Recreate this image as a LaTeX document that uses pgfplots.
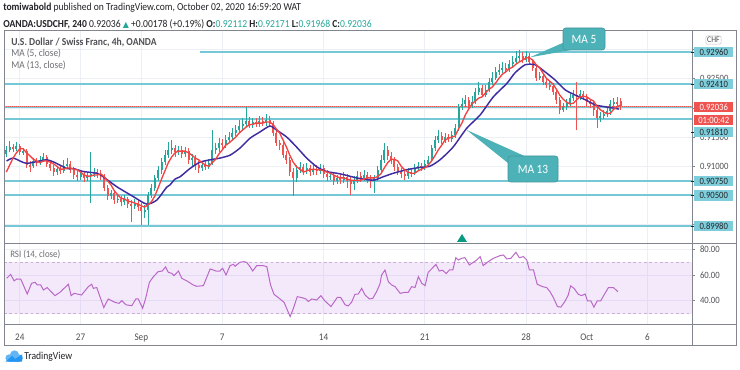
\documentclass[border=0pt]{standalone}
\usepackage{fontspec}
\setmainfont{Carlito}[FakeStretch=0.9]
\newfontfamily\symf{DejaVu Sans}
\usepackage{pgfplots}
\pgfplotsset{compat=1.18}
\usepackage{pgfplotstable}

\definecolor{upc}{RGB}{38,166,154}
\definecolor{dnc}{RGB}{239,83,80}
\definecolor{mafive}{RGB}{242,66,66}
\definecolor{mathirteen}{RGB}{63,44,160}
\definecolor{lvl}{RGB}{118,200,214}
\definecolor{lvlbox}{RGB}{126,205,218}
\definecolor{callout}{RGB}{77,178,184}
\definecolor{rsic}{RGB}{186,104,200}
\definecolor{rsiband}{RGB}{170,80,230}
\definecolor{rsidash}{RGB}{200,175,215}
\definecolor{gridc}{RGB}{236,240,245}
\definecolor{framec}{RGB}{130,133,142}
\definecolor{hdr}{RGB}{35,35,40}
\definecolor{labc}{RGB}{80,80,85}
\definecolor{legc}{RGB}{110,110,115}
\definecolor{trig}{RGB}{8,153,129}
\definecolor{tvblue}{RGB}{33,150,243}
\definecolor{tvlight}{RGB}{100,181,246}

\pgfplotstableread{
k o h l c
-4 0.9121 0.9135 0.9116 0.9128
-3 0.9128 0.9143 0.9124 0.9133
-1 0.9130 0.9142 0.9126 0.9135
1 0.9124 0.9131 0.9119 0.9126
4 0.9100 0.9114 0.9097 0.9109
6 0.9106 0.9118 0.9102 0.9111
7 0.9111 0.9123 0.9107 0.9116
11 0.9090 0.9100 0.9085 0.9095
13 0.9092 0.9111 0.9088 0.9100
14 0.9100 0.9114 0.9095 0.9104
18 0.9082 0.9094 0.9076 0.9087
20 0.9080 0.9090 0.9075 0.9083
21 0.9083 0.9124 0.9037 0.9087
22 0.9087 0.9097 0.9082 0.9090
27 0.9049 0.9059 0.9044 0.9054
29 0.9042 0.9051 0.9037 0.9044
31 0.9039 0.9051 0.9034 0.9044
34 0.9032 0.9044 0.9027 0.9037
37 0.9023 0.9034 0.9011 0.9025
38 0.9025 0.9056 0.8999 0.9051
39 0.9051 0.9070 0.9045 0.9063
40 0.9063 0.9085 0.9058 0.9080
41 0.9080 0.9100 0.9075 0.9094
42 0.9094 0.9114 0.9087 0.9107
43 0.9107 0.9128 0.9102 0.9119
44 0.9119 0.9142 0.9114 0.9128
45 0.9128 0.9145 0.9121 0.9131
47 0.9124 0.9135 0.9119 0.9128
49 0.9121 0.9133 0.9116 0.9126
51 0.9111 0.9121 0.9100 0.9114
54 0.9097 0.9107 0.9092 0.9102
56 0.9099 0.9112 0.9095 0.9106
57 0.9106 0.9162 0.9102 0.9128
58 0.9128 0.9140 0.9121 0.9131
59 0.9131 0.9148 0.9124 0.9140
61 0.9136 0.9154 0.9131 0.9145
62 0.9145 0.9159 0.9140 0.9150
63 0.9150 0.9166 0.9145 0.9157
64 0.9157 0.9171 0.9152 0.9162
65 0.9162 0.9179 0.9157 0.9169
66 0.9169 0.9183 0.9162 0.9172
67 0.9172 0.9202 0.9167 0.9178
69 0.9171 0.9183 0.9166 0.9176
71 0.9172 0.9186 0.9167 0.9178
73 0.9174 0.9190 0.9169 0.9179
82 0.9080 0.9102 0.9073 0.9094
83 0.9094 0.9107 0.9088 0.9099
85 0.9092 0.9106 0.9087 0.9097
87 0.9090 0.9104 0.9085 0.9095
89 0.9092 0.9104 0.9087 0.9097
92 0.9082 0.9090 0.9076 0.9083
94 0.9075 0.9085 0.9070 0.9080
96 0.9076 0.9090 0.9071 0.9082
99 0.9070 0.9083 0.9059 0.9076
100 0.9076 0.9092 0.9071 0.9083
102 0.9080 0.9094 0.9075 0.9085
105 0.9075 0.9085 0.9054 0.9080
106 0.9080 0.9100 0.9075 0.9094
107 0.9094 0.9119 0.9088 0.9111
108 0.9111 0.9140 0.9106 0.9128
115 0.9083 0.9097 0.9078 0.9090
117 0.9088 0.9104 0.9085 0.9097
118 0.9097 0.9107 0.9092 0.9100
120 0.9097 0.9111 0.9094 0.9104
121 0.9104 0.9118 0.9100 0.9111
122 0.9111 0.9136 0.9107 0.9131
123 0.9131 0.9152 0.9126 0.9145
124 0.9145 0.9162 0.9140 0.9152
126 0.9145 0.9157 0.9140 0.9150
128 0.9147 0.9160 0.9142 0.9154
129 0.9154 0.9172 0.9148 0.9166
130 0.9166 0.9207 0.9160 0.9202
131 0.9202 0.9217 0.9197 0.9207
132 0.9207 0.9222 0.9202 0.9214
134 0.9203 0.9220 0.9200 0.9210
135 0.9210 0.9234 0.9207 0.9227
136 0.9227 0.9244 0.9222 0.9234
138 0.9222 0.9239 0.9219 0.9231
139 0.9231 0.9251 0.9227 0.9244
140 0.9244 0.9262 0.9239 0.9251
141 0.9251 0.9270 0.9248 0.9262
142 0.9262 0.9275 0.9256 0.9265
143 0.9265 0.9279 0.9260 0.9269
145 0.9265 0.9282 0.9262 0.9275
146 0.9275 0.9289 0.9270 0.9279
147 0.9279 0.9298 0.9275 0.9286
148 0.9286 0.9299 0.9281 0.9289
150 0.9282 0.9298 0.9279 0.9289
154 0.9251 0.9262 0.9248 0.9255
161 0.9197 0.9208 0.9193 0.9202
162 0.9202 0.9215 0.9197 0.9208
163 0.9208 0.9224 0.9203 0.9217
164 0.9217 0.9231 0.9212 0.9222
166 0.9219 0.9231 0.9214 0.9224
172 0.9183 0.9193 0.9176 0.9186
173 0.9186 0.9197 0.9181 0.9190
174 0.9190 0.9202 0.9185 0.9195
175 0.9195 0.9214 0.9188 0.9207
176 0.9207 0.9217 0.9202 0.9210
}\upcandles

\pgfplotstableread{
k o h l c
-2 0.9133 0.9138 0.9124 0.9130
0 0.9135 0.9138 0.9119 0.9124
2 0.9126 0.9130 0.9097 0.9102
3 0.9102 0.9109 0.9090 0.9100
5 0.9109 0.9114 0.9100 0.9106
8 0.9116 0.9119 0.9099 0.9104
9 0.9104 0.9109 0.9092 0.9097
10 0.9097 0.9102 0.9083 0.9090
12 0.9095 0.9102 0.9087 0.9092
15 0.9104 0.9109 0.9088 0.9094
16 0.9094 0.9099 0.9078 0.9085
17 0.9085 0.9092 0.9075 0.9082
19 0.9087 0.9090 0.9073 0.9080
23 0.9090 0.9095 0.9080 0.9087
24 0.9087 0.9094 0.9076 0.9083
25 0.9083 0.9087 0.9058 0.9063
26 0.9063 0.9068 0.9042 0.9049
28 0.9054 0.9059 0.9035 0.9042
30 0.9044 0.9049 0.9032 0.9039
32 0.9044 0.9047 0.9028 0.9035
33 0.9035 0.9042 0.9004 0.9032
35 0.9037 0.9042 0.9023 0.9030
36 0.9030 0.9037 0.8999 0.9023
46 0.9131 0.9136 0.9116 0.9124
48 0.9128 0.9135 0.9114 0.9121
50 0.9126 0.9131 0.9104 0.9111
52 0.9114 0.9119 0.9094 0.9102
53 0.9102 0.9109 0.9088 0.9097
55 0.9102 0.9111 0.9094 0.9099
60 0.9140 0.9147 0.9130 0.9136
68 0.9178 0.9185 0.9166 0.9171
70 0.9176 0.9183 0.9167 0.9172
72 0.9178 0.9185 0.9169 0.9174
74 0.9179 0.9186 0.9167 0.9172
75 0.9172 0.9178 0.9152 0.9157
76 0.9157 0.9162 0.9135 0.9140
77 0.9140 0.9145 0.9128 0.9136
78 0.9136 0.9142 0.9114 0.9119
79 0.9119 0.9126 0.9104 0.9111
80 0.9111 0.9116 0.9083 0.9090
81 0.9090 0.9097 0.9049 0.9080
84 0.9099 0.9104 0.9085 0.9092
86 0.9097 0.9102 0.9083 0.9090
88 0.9095 0.9102 0.9085 0.9092
90 0.9097 0.9102 0.9080 0.9087
91 0.9087 0.9094 0.9075 0.9082
93 0.9083 0.9088 0.9068 0.9075
95 0.9080 0.9085 0.9070 0.9076
97 0.9082 0.9087 0.9063 0.9075
98 0.9075 0.9082 0.9051 0.9070
101 0.9083 0.9090 0.9073 0.9080
103 0.9085 0.9090 0.9071 0.9078
104 0.9078 0.9085 0.9063 0.9075
109 0.9128 0.9135 0.9111 0.9118
110 0.9118 0.9124 0.9104 0.9111
111 0.9111 0.9116 0.9092 0.9099
112 0.9099 0.9104 0.9085 0.9092
113 0.9092 0.9097 0.9080 0.9087
114 0.9087 0.9092 0.9076 0.9083
116 0.9090 0.9097 0.9082 0.9088
119 0.9100 0.9106 0.9092 0.9097
125 0.9152 0.9159 0.9138 0.9145
127 0.9150 0.9155 0.9142 0.9147
133 0.9214 0.9219 0.9198 0.9203
137 0.9234 0.9239 0.9219 0.9222
144 0.9269 0.9277 0.9260 0.9265
149 0.9289 0.9296 0.9277 0.9282
151 0.9289 0.9294 0.9274 0.9279
152 0.9279 0.9284 0.9263 0.9269
153 0.9269 0.9274 0.9246 0.9251
155 0.9255 0.9260 0.9239 0.9244
156 0.9244 0.9250 0.9234 0.9239
157 0.9239 0.9246 0.9231 0.9238
158 0.9238 0.9243 0.9222 0.9227
159 0.9227 0.9232 0.9207 0.9214
160 0.9214 0.9219 0.9190 0.9197
165 0.9222 0.9244 0.9162 0.9219
167 0.9224 0.9229 0.9214 0.9219
168 0.9219 0.9224 0.9203 0.9210
169 0.9210 0.9215 0.9200 0.9207
170 0.9207 0.9212 0.9186 0.9197
171 0.9197 0.9203 0.9166 0.9183
177 0.9210 0.9219 0.9203 0.9208
178 0.92112 0.92171 0.91968 0.92036
}\dncandles

\tikzset{pbox/.style={inner sep=0pt, minimum width=29.25pt, minimum height=7.6pt, anchor=west, font=\fontsize{7.2}{8}\selectfont}}

\begin{document}
\begin{tikzpicture}
\useasboundingbox (0,0) rectangle (555pt,277.5pt);
\fill[white] (0,0) rectangle (555pt,277.5pt);

% ---------------- main price pane ----------------
\begin{axis}[
  at={(3pt,95.25pt)}, anchor=south west, scale only axis,
  width=516pt, height=159.75pt,
  xmin=-4.68, xmax=199.17, ymin=0.896833, ymax=0.933374,
  axis line style={draw=none},
  xtick={0,18,36,60,90,120,150,168,186}, xticklabels={}, xtick style={draw=none},
  ytick={0.9,0.905,0.91,0.915,0.92,0.925,0.93},
  yticklabels={,,0.91000,0.91500,,0.92500,},
  scaled y ticks=false,
  ytick pos=right, yticklabel pos=right,
  ytick style={draw=framec, line width=0.5pt}, major tick length=2.5pt, tick align=outside,
  yticklabel style={font=\fontsize{7.2}{8}\selectfont, text=labc},
  grid=major, major grid style={draw=gridc, line width=0.5pt},
]
% horizontal support / resistance levels
\addplot[forget plot, lvl, line width=1.5pt] coordinates {(53.4,0.9296) (199.17,0.9296)};
\addplot[forget plot, lvl, line width=1.5pt] coordinates {(-4.68,0.9241) (199.17,0.9241)};
\addplot[forget plot, lvl, line width=1.5pt] coordinates {(-4.68,0.92011) (199.17,0.92011)};
\addplot[forget plot, lvl, line width=1.5pt] coordinates {(-4.68,0.9181) (199.17,0.9181)};
\addplot[forget plot, lvl, line width=1.5pt] coordinates {(-4.68,0.9075) (199.17,0.9075)};
\addplot[forget plot, lvl, line width=1.5pt] coordinates {(-4.68,0.9050) (199.17,0.9050)};
\addplot[forget plot, lvl, line width=1.5pt] coordinates {(-4.68,0.8998) (199.17,0.8998)};
\addplot[forget plot, dnc, densely dotted, line width=0.5pt] coordinates {(-4.68,0.92036) (199.17,0.92036)};

% candles: wicks
\addplot[forget plot, draw=none, mark=none, error bars/.cd, y dir=both, y explicit, error mark=none,
  error bar style={draw=upc, line width=0.55pt}]
  table[x=k, y expr={(\thisrow{h}+\thisrow{l})/2}, y error expr={(\thisrow{h}-\thisrow{l})/2}] {\upcandles};
\addplot[forget plot, draw=none, mark=none, error bars/.cd, y dir=both, y explicit, error mark=none,
  error bar style={draw=dnc, line width=0.55pt}]
  table[x=k, y expr={(\thisrow{h}+\thisrow{l})/2}, y error expr={(\thisrow{h}-\thisrow{l})/2}] {\dncandles};
% candles: bodies
\addplot[forget plot, draw=none, mark=none, error bars/.cd, y dir=both, y explicit, error mark=none,
  error bar style={draw=upc, line width=1.45pt}]
  table[x=k, y expr={(\thisrow{o}+\thisrow{c})/2}, y error expr={abs(\thisrow{c}-\thisrow{o})/2}] {\upcandles};
\addplot[forget plot, draw=none, mark=none, error bars/.cd, y dir=both, y explicit, error mark=none,
  error bar style={draw=dnc, line width=1.45pt}]
  table[x=k, y expr={(\thisrow{o}+\thisrow{c})/2}, y error expr={abs(\thisrow{c}-\thisrow{o})/2}] {\dncandles};

% MA 13
\addplot[forget plot, mathirteen, line width=1.1pt, smooth, tension=0.4] coordinates {
(-3.9,0.9109)(-1.9,0.9114)(2.0,0.9105)(8.0,0.9111)(11.9,0.9102)(13.9,0.9096)(15.9,0.9096)
(18.8,0.9091)(22.8,0.9088)(24.7,0.9082)(28.7,0.9065)(33.6,0.9048)(37.6,0.9035)(40.6,0.9042)
(43.5,0.9064)(44.5,0.9068)(46.0,0.9078)(47.5,0.9082)(50.4,0.9096)(53.4,0.9107)(56.4,0.9111)
(59.3,0.9114)(62.3,0.9119)(65.2,0.9131)(68.2,0.9148)(71.2,0.9159)(74.1,0.9169)(76.1,0.9162)
(79.1,0.9150)(82.0,0.9133)(85.0,0.9114)(88.0,0.9099)(90.9,0.9091)(93.9,0.9088)(96.4,0.9085)
(99.8,0.9080)(104.7,0.9076)(107.7,0.9082)(110.7,0.9088)(114.6,0.9094)(118.6,0.9098)(121.5,0.9100)
(124.5,0.9111)(128.4,0.9133)(132.4,0.9165)(136.4,0.9188)(140.3,0.9219)(144.3,0.9242)(146.7,0.9260)
(149.7,0.9274)(152.7,0.9274)(155.6,0.9262)(158.6,0.9248)(161.6,0.9231)(164.6,0.9222)(167.6,0.9214)
(170.6,0.9205)(173.5,0.9202)(177.6,0.9198)};

% MA 5
\addplot[forget plot, mafive, line width=1.0pt] coordinates {
(-4,0.9090)(-3,0.9102)(-2,0.9114)(-1,0.9123)(0,0.9130)(1,0.9130)(2,0.9123)(3,0.9118)(4,0.9112)
(5,0.9109)(6,0.9106)(7,0.9109)(8,0.9109)(9,0.9107)(10,0.9104)(11,0.9100)(12,0.9095)(13,0.9095)
(14,0.9097)(15,0.9097)(16,0.9095)(17,0.9094)(18,0.9090)(19,0.9085)(20,0.9083)(21,0.9083)(22,0.9085)
(23,0.9085)(24,0.9087)(25,0.9082)(26,0.9075)(27,0.9068)(28,0.9058)(29,0.9051)(30,0.9045)(31,0.9044)
(32,0.9040)(33,0.9039)(34,0.9037)(35,0.9035)(36,0.9032)(37,0.9030)(38,0.9034)(39,0.9039)(40,0.9049)
(41,0.9063)(42,0.9078)(43,0.9092)(44,0.9106)(45,0.9116)(46,0.9123)(47,0.9126)(48,0.9126)(49,0.9126)
(50,0.9123)(51,0.9119)(52,0.9114)(53,0.9111)(54,0.9106)(55,0.9102)(56,0.9100)(57,0.9106)(58,0.9112)
(59,0.9121)(60,0.9128)(61,0.9136)(62,0.9140)(63,0.9145)(64,0.9150)(65,0.9157)(66,0.9162)(67,0.9167)
(68,0.9171)(69,0.9172)(70,0.9174)(71,0.9174)(72,0.9174)(73,0.9176)(74,0.9176)(75,0.9172)(76,0.9164)
(77,0.9157)(78,0.9145)(79,0.9133)(80,0.9119)(81,0.9107)(82,0.9099)(83,0.9095)(84,0.9090)(85,0.9092)
(86,0.9094)(87,0.9095)(88,0.9094)(89,0.9094)(90,0.9092)(91,0.9090)(92,0.9088)(93,0.9085)(94,0.9082)
(95,0.9080)(96,0.9080)(97,0.9078)(98,0.9076)(99,0.9076)(100,0.9076)(101,0.9076)(102,0.9078)(103,0.9080)
(104,0.9080)(105,0.9080)(106,0.9082)(107,0.9087)(108,0.9097)(109,0.9106)(110,0.9112)(111,0.9112)
(112,0.9109)(113,0.9100)(114,0.9094)(115,0.9090)(116,0.9088)(117,0.9088)(118,0.9092)(119,0.9095)
(120,0.9097)(121,0.9102)(122,0.9109)(123,0.9118)(124,0.9128)(125,0.9136)(126,0.9145)(127,0.9148)
(128,0.9150)(129,0.9152)(130,0.9164)(131,0.9174)(132,0.9188)(133,0.9198)(134,0.9207)(135,0.9212)
(136,0.9217)(137,0.9219)(138,0.9226)(139,0.9232)(140,0.9236)(141,0.9243)(142,0.9251)(143,0.9258)
(144,0.9262)(145,0.9267)(146,0.9270)(147,0.9275)(148,0.9279)(149,0.9282)(150,0.9286)(151,0.9286)
(152,0.9282)(153,0.9274)(154,0.9269)(155,0.9260)(156,0.9251)(157,0.9246)(158,0.9241)(159,0.9232)
(160,0.9222)(161,0.9215)(162,0.9210)(163,0.9207)(164,0.9208)(165,0.9214)(166,0.9219)(167,0.9220)
(168,0.9219)(169,0.9215)(170,0.9212)(171,0.9203)(172,0.9197)(173,0.9193)(174,0.9190)(175,0.9191)
(176,0.9198)(177,0.9202)(178,0.9205)};
\end{axis}

% ---------------- RSI pane ----------------
\begin{axis}[
  at={(3pt,34.5pt)}, anchor=south west, scale only axis,
  width=516pt, height=60.75pt,
  xmin=-4.68, xmax=199.17, ymin=21.9, ymax=85.04,
  axis line style={draw=none},
  xtick={0,18,36,60,90,120,150,168,186},
  xticklabels={24,27,Sep,7,14,21,28,Oct,6}, xtick style={draw=none},
  xticklabel style={font=\fontsize{7.6}{8}\selectfont, text=labc, yshift=-1.5pt},
  ytick={40,60,80}, yticklabels={40.00,60.00,80.00},
  ytick pos=right, yticklabel pos=right,
  ytick style={draw=framec, line width=0.5pt}, major tick length=2.5pt, tick align=outside,
  yticklabel style={font=\fontsize{7.2}{8}\selectfont, text=labc},
  grid=major, major grid style={draw=gridc, line width=0.5pt},
]
\fill[rsiband, fill opacity=0.12] (axis cs:-4.68,30) rectangle (axis cs:199.17,70);
\draw[rsidash, dash pattern=on 2pt off 2pt, line width=0.5pt] (axis cs:-4.68,70) -- (axis cs:199.17,70);
\draw[rsidash, dash pattern=on 2pt off 2pt, line width=0.5pt] (axis cs:-4.68,30) -- (axis cs:199.17,30);
\addplot[forget plot, rsic, line width=0.75pt] coordinates {
(-3.9,57.5)(-2.7,60.6)(-1.7,55.5)(-0.9,57)(0.3,56.8)(2.2,45.3)(3.5,53.6)(4.5,54.4)(5.2,52.3)
(6.2,52.3)(7.0,48.4)(8.1,50.3)(10.4,44)(11.9,46.6)(14.4,52.9)(15.2,44)(16.1,45.8)(18.3,44.5)
(20.3,51)(21.3,52.9)(21.8,49.7)(22.8,50.3)(24.9,34.7)(26.2,41.4)(28.2,38.8)(29.4,38)(30.2,40.1)
(31.5,36.8)(33.2,36.2)(34.4,41.4)(35.1,41.4)(36.4,34.2)(37.3,42)(38.4,54.4)(39.6,58.8)(41.0,62.7)
(42.2,63.2)(43.2,66.4)(44.0,62.2)(45.0,61.4)(45.7,59.6)(47.0,63.2)(48.0,57.5)(49.5,55.5)(51.4,52.3)
(52.4,51.3)(54.4,51.8)(56.4,64.8)(57.3,64)(58.1,63.2)(59.3,63.2)(60.1,65.3)(61.1,60.1)(62.3,67.4)
(63.3,68.4)(63.8,66.9)(65.2,70)(66.4,70.5)(67.2,70)(68.2,66.6)(69.0,63.2)(70.2,67.4)(72.1,67.4)
(73.2,66.6)(74.3,52.3)(75.3,45.1)(77.1,41.4)(78.3,38.8)(80.1,27.7)(81.0,33.6)(82.2,43.2)(83.5,42.5)
(84.8,41.4)(85.5,39.4)(86.5,41.4)(88.0,40.6)(89.2,44)(90.4,39.9)(92.2,35.5)(94.1,42.7)(95.1,42.5)
(96.4,36.8)(97.3,36)(98.3,38.8)(99.3,45)(100.3,45.3)(101.3,49.7)(102.3,44.5)(103.6,41.4)(104.6,41.9)
(105.7,47.1)(106.7,52.9)(107.2,60.1)(108.2,64)(109.2,54.9)(110.2,52.3)(111.2,51)(112.7,45.8)
(114.1,46.6)(115.1,46.6)(116.1,51)(117.1,50.3)(118.1,58.8)(119.1,53.6)(120.1,51.8)(121.0,62.2)
(122.0,64.8)(123.3,68.4)(124.3,63.2)(125.3,63.8)(126.3,61.2)(127.3,64)(128.3,64)(129.2,73.6)
(129.9,71.8)(130.9,73.1)(131.9,73.6)(133.2,67.9)(134.4,70)(135.4,71.8)(136.4,74.4)(137.3,67.4)
(138.8,70.5)(140.3,73.1)(142.3,75.2)(143.3,75.7)(144.3,72.6)(145.5,73.1)(147.0,77.8)(148.0,73.6)
(149.2,74.4)(150.2,71.8)(151.0,64)(152.2,64)(153.3,52.9)(154.9,51)(156.1,50.3)(157.1,47.1)
(158.1,42.5)(159.3,35.5)(160.3,35)(161.5,39.4)(162.5,44.5)(163.2,51.6)(164.2,49.7)(165.5,45)
(166.5,44)(167.5,45.3)(168.2,39.9)(169.2,39.9)(170.1,35)(171.1,39.9)(172.1,39.9)(173.1,44.5)
(174.4,50.3)(175.9,50.3)(177.2,47.1)};
\end{axis}

% ---------------- decorations (pixel grid, y up) ----------------
\begin{scope}[x=0.75pt,y=0.75pt]
% frame and separators
\draw[framec, line width=0.6pt] (4,25) rectangle (736,340);
\draw[framec, line width=0.6pt] (4,127) -- (736,127);
\draw[framec, line width=0.6pt] (4,46) -- (736,46);
\draw[framec, line width=0.6pt] (692,25) -- (692,340);

% header
\node[anchor=west, inner sep=0pt, font=\fontsize{8}{9}\selectfont, text=hdr] at (3,362)
  {\textbf{tomiwabold} published on TradingView.com, October 02, 2020 16:59:20 WAT};
\node[anchor=west, inner sep=0pt, font=\fontsize{8}{9}\selectfont, text=hdr] at (3,346)
  {\textbf{OANDA:USDCHF, 240} 0.92036 {\symf\fontsize{6}{7}\selectfont\textcolor{upc}{▲}} +0.00178 (+0.19\%)
   \textbf{O:}\textcolor{upc}{0.92112} \textbf{H:}\textcolor{upc}{0.92171} \textbf{L:}\textcolor{upc}{0.91968} \textbf{C:}\textcolor{upc}{0.92036}};

% legend texts
\node[anchor=west, inner sep=0pt, font=\bfseries\fontsize{8}{9}\selectfont, text=labc] at (11,328) {U.S. Dollar / Swiss Franc, 4h, OANDA};
\node[anchor=west, inner sep=0pt, font=\fontsize{7.8}{9}\selectfont, text=legc] at (11,317) {MA (5, close)};
\node[anchor=west, inner sep=0pt, font=\fontsize{7.8}{9}\selectfont, text=legc] at (11,305) {MA (13, close)};
\node[anchor=west, inner sep=0pt, font=\fontsize{7.4}{9}\selectfont, text=legc] at (10,115) {RSI (14, close)};

% marker triangle
\fill[trig] (457,128) -- (467,128) -- (462,136) -- cycle;

% callouts
\fill[callout] (530,312.7) -- (563.3,327.3) -- (576.7,321) -- cycle;
\node[fill=callout, draw=callout!85!black, line width=0.4pt, rounded corners=2pt, text=white, inner sep=0pt,
  minimum width=31.5pt, minimum height=16.5pt, font=\fontsize{9.5}{10}\selectfont] at (584,331) {MA 5};
\fill[callout] (466.7,240) -- (526.7,213) -- (508.3,206.7) -- cycle;
\node[fill=callout, draw=callout!85!black, line width=0.4pt, rounded corners=2pt, text=white, inner sep=0pt,
  minimum width=37.5pt, minimum height=19.5pt, font=\fontsize{9.5}{10}\selectfont] at (533,201) {MA 13};

% price scale labels
\foreach \yy/\lab in {52/0.92960, 84/0.92410, 132/0.91810, 181/0.90750, 195.5/0.90500, 226/0.89980} {
  \draw[hdr, line width=0.5pt] (691,{370-\yy}) -- (694,{370-\yy});
  \node[pbox, fill=lvlbox, text=hdr] at (694,{370-\yy}) {\lab};
}
\node[pbox, fill=dnc, text=white] at (694,263) {0.92036};
\node[pbox, fill=dnc, text=white] at (694,250) {01:00:42};
\node[draw=gray!45, fill=white, rounded corners=1pt, inner sep=1pt, font=\fontsize{6.5}{7}\selectfont, text=labc] at (713.5,330) {CHF};

% footer logo
\fill[tvlight] (9,12) circle (3.6);
\fill[tvlight] (14.5,15) circle (4.6);
\fill[tvlight] (19.5,12) circle (3.4);
\fill[tvlight] (9,8.4) rectangle (19.5,12);
\fill[tvblue] (5.5,8.4) -- (12,14) -- (15,11) -- (22,15.5) -- (22,8.4) -- cycle;
\node[anchor=west, inner sep=0pt, font=\fontsize{8}{9}\selectfont, text=hdr] at (24,13) {TradingView};
\end{scope}
\end{tikzpicture}
\end{document}
